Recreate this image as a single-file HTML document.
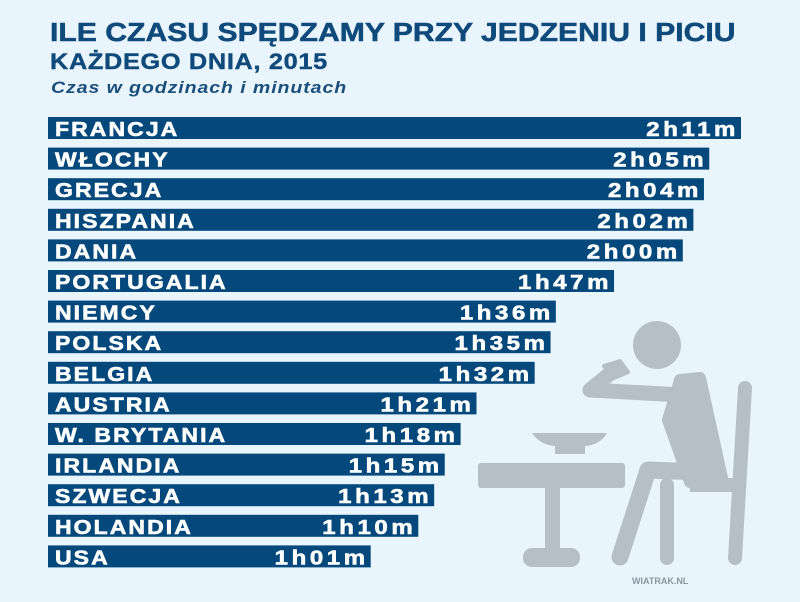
<!DOCTYPE html>
<html><head><meta charset="utf-8"><style>
body{margin:0;width:800px;height:597px;background:#e9f5fd;overflow:hidden;font-family:"Liberation Sans",Arial,sans-serif}
</style></head><body>
<svg width="800" height="597">
<text transform="translate(50,41) scale(1.16,1)" font-size="26" font-weight="bold" fill="#0f4a7b" stroke="#0f4a7b" stroke-width="0.5">ILE CZASU SPĘDZAMY PRZY JEDZENIU I PICIU</text>
<text transform="translate(50,69) scale(1.15,1)" font-size="22" font-weight="bold" fill="#0f4a7b" letter-spacing="0.6" stroke="#0f4a7b" stroke-width="0.4">KAŻDEGO DNIA, 2015</text>
<text transform="translate(51,93) scale(1.15,1)" font-size="17" font-weight="bold" font-style="italic" fill="#1a4f7c" letter-spacing="0.8">Czas w godzinach i minutach</text>
<g fill="#b5bfc8" stroke="#b5bfc8" stroke-linecap="round" stroke-linejoin="round">
<circle cx="657" cy="345" r="24" stroke="none"/>
<rect x="478" y="463" width="147" height="25" rx="3" stroke="none"/>
<rect x="545" y="486" width="15" height="64" stroke="none"/>
<rect x="523" y="548" width="57" height="19" rx="9" stroke="none"/>
<path d="M532 433 L607 433 Q600 445 585 446 L585 454 L555 454 L555 446 Q540 445 532 433Z" stroke="none"/>
<path d="M604 366 L620 361 L628 372 L614 378Z" stroke-width="4"/>
<line x1="745" y1="388" x2="735" y2="558" stroke-width="14"/>
<rect x="690" y="478" width="55" height="14" stroke="none"/>
<line x1="667" y1="485" x2="667" y2="558" stroke-width="14"/>
<path d="M680 380 L700 378 L722 478 L690 482 L668 420Z" stroke-width="12"/>
<polyline points="682,395 590,390 612,372" fill="none" stroke-width="15"/>
<polyline points="700,472 648,470 620,557" fill="none" stroke-width="17"/>
</g>
<text x="632" y="584" font-size="9" font-weight="bold" fill="#8a96a0">WIATRAK.NL</text>
<g id="bars"></g>
</svg>
<script>
const categories=["FRANCJA","WŁOCHY","GRECJA","HISZPANIA","DANIA","PORTUGALIA","NIEMCY","POLSKA","BELGIA","AUSTRIA","W. BRYTANIA","IRLANDIA","SZWECJA","HOLANDIA","USA"];
const minutes=[131,125,124,122,120,107,96,95,92,81,78,75,73,70,61];
const valueLabels=["2h11m","2h05m","2h04m","2h02m","2h00m","1h47m","1h36m","1h35m","1h32m","1h21m","1h18m","1h15m","1h13m","1h10m","1h01m"];
const NS="http://www.w3.org/2000/svg";
const g=document.getElementById('bars');
function xs(v){return 48+v*5.29;}
function ys(i){return 117+i*30.6;}
categories.forEach((c,i)=>{
 const y=ys(i),w=xs(minutes[i])-48;
 const r=document.createElementNS(NS,'rect');
 
 
 r.setAttribute('x',48);r.setAttribute('y',y);r.setAttribute('width',w);r.setAttribute('height',22);r.setAttribute('fill','#05497c');
 g.appendChild(r);
 const t=document.createElementNS(NS,'text');
 
 
 t.setAttribute('transform','translate(55,'+(y+19)+') scale(1.15,1)');t.setAttribute('font-size','20');t.setAttribute('font-weight','bold');t.setAttribute('fill','#fff');
 t.setAttribute('letter-spacing','1.8');t.setAttribute('stroke','#fff');t.setAttribute('stroke-width','0.6');
 t.textContent=c;g.appendChild(t);
 const v=document.createElementNS(NS,'text');
 
 
 v.setAttribute('transform','translate('+(xs(minutes[i])-2)+','+(y+19)+') scale(1.2,1)');v.setAttribute('text-anchor','end');v.setAttribute('font-size','20');v.setAttribute('font-weight','bold');v.setAttribute('fill','#fff');
 v.setAttribute('letter-spacing','3');v.setAttribute('stroke','#fff');v.setAttribute('stroke-width','0.6');
 v.textContent=valueLabels[i];g.appendChild(v);
});
</script>
</body></html>
